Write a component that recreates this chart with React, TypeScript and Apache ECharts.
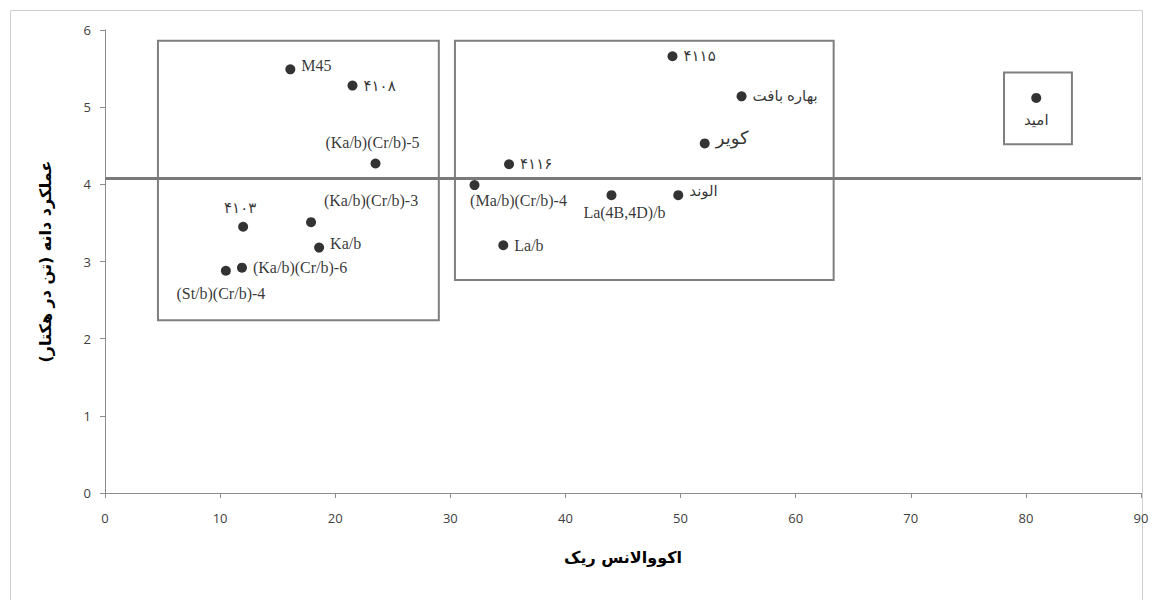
import React, { useEffect, useRef } from "react";
import * as echarts from "echarts";

const names = [
  "M45", "۴۱۰۸", "(Ka/b)(Cr/b)-5", "۴۱۰۳", "(Ka/b)(Cr/b)-3", "Ka/b",
  "(Ka/b)(Cr/b)-6", "(St/b)(Cr/b)-4", "۴۱۱۵", "بهاره بافت", "کویر", "۴۱۱۶",
  "(Ma/b)(Cr/b)-4", "La(4B,4D)/b", "الوند", "La/b", "امید",
];
const ecovalence = [16.1, 21.5, 23.5, 12.0, 17.9, 18.6, 11.9, 10.5, 49.3, 55.3, 52.1, 35.1, 32.1, 44.0, 49.8, 34.6, 80.9];
const grainYield = [5.49, 5.28, 4.27, 3.45, 3.51, 3.18, 2.92, 2.88, 5.66, 5.14, 4.53, 4.26, 3.99, 3.86, 3.86, 3.21, 5.12];
const labelPos = ["right", "right", "top", "top", "top", "right", "right", "bottom", "right", "right", "right", "right", "bottom", "bottom", "right", "right", "bottom"];
const labelOffset = [[0, -4], [0, 0], [-3, -2], [-3, 0], [60, -3], [0, -4], [0, 0], [-5, 4], [0, 0], [0, 0], [0, -5], [0, 0], [44, -4], [13, -2], [0, -4], [0, 0], [0, 4]];
const labelSize = [16, 15, 16, 15, 16, 16, 16, 16, 15, 15, 18, 15, 16, 16, 15, 16, 15];

const boxes = [
  [[4.6, 5.86], [29.0, 2.24]],
  [[30.4, 5.86], [63.3, 2.76]],
  [[78.1, 5.45], [84.0, 4.52]],
];
const meanYield = 4.08;
const xTicks = [0, 90, 10];
const yTicks = [0, 6, 1];

export default function App() {
  const ref = useRef<HTMLDivElement>(null);
  useEffect(() => {
    if (!ref.current) return;
    const chart = echarts.init(ref.current, null, { renderer: "svg" });
    const axisLabel = { color: "#404040", fontSize: 13, fontFamily: "Open Sans, Liberation Sans, sans-serif" };
    const axisLine = { show: true, lineStyle: { color: "#8c8c8c", width: 1 } };
    chart.setOption({
      animation: false,
      backgroundColor: "#ffffff",
      grid: { left: 105, right: 17, top: 30, bottom: 107 },
      graphic: [
        {
          type: "rect",
          shape: { x: 10.5, y: 10.5, width: 1132, height: 620 },
          style: { fill: "none", stroke: "#d0d0d0", lineWidth: 1 },
          silent: true,
        },
      ],
      xAxis: {
        type: "value",
        min: xTicks[0],
        max: xTicks[1],
        interval: xTicks[2],
        splitLine: { show: false },
        axisLine,
        axisTick: { show: true, length: 5, lineStyle: { color: "#8c8c8c" } },
        axisLabel: { ...axisLabel, margin: 18 },
        name: "اکووالانس ریک",
        nameLocation: "middle",
        nameGap: 56,
        nameTextStyle: { fontSize: 16, fontWeight: "bold", color: "#000", fontFamily: "DejaVu Sans, sans-serif" },
      },
      yAxis: {
        type: "value",
        min: yTicks[0],
        max: yTicks[1],
        interval: yTicks[2],
        splitLine: { show: false },
        axisLine,
        axisTick: { show: true, length: 5, lineStyle: { color: "#8c8c8c" } },
        axisLabel: { ...axisLabel, margin: 14 },
        name: "عملکرد دانه (تن در هکتار)",
        nameLocation: "middle",
        nameGap: 52,
        nameRotate: 90,
        nameTextStyle: { fontSize: 16, fontWeight: "bold", color: "#000", fontFamily: "DejaVu Sans, sans-serif" },
      },
      series: [
        {
          type: "scatter",
          symbol: "circle",
          symbolSize: 10,
          itemStyle: { color: "#000000" },
          data: names.map((n, i) => ({
            name: n,
            value: [ecovalence[i], grainYield[i]],
            label: {
              show: true,
              position: labelPos[i],
              offset: labelOffset[i],
              formatter: n,
              color: "#000",
              fontSize: labelSize[i],
              fontFamily: "Liberation Serif, DejaVu Sans, serif",
              distance: 6,
            },
          })),
          markLine: {
            silent: true,
            symbol: "none",
            label: { show: false },
            lineStyle: { color: "#7a7a7a", width: 3, type: "solid" },
            data: [{ yAxis: meanYield }],
          },
          markArea: {
            silent: true,
            itemStyle: { color: "rgba(0,0,0,0)", borderColor: "#7f7f7f", borderWidth: 2 },
            data: boxes.map((b) => [{ coord: b[0] }, { coord: b[1] }]),
          },
        },
      ],
    });
    return () => chart.dispose();
  }, []);
  return <div ref={ref} style={{ position: "absolute", left: 0, top: 0, width: 1158, height: 600 }} />;
}
